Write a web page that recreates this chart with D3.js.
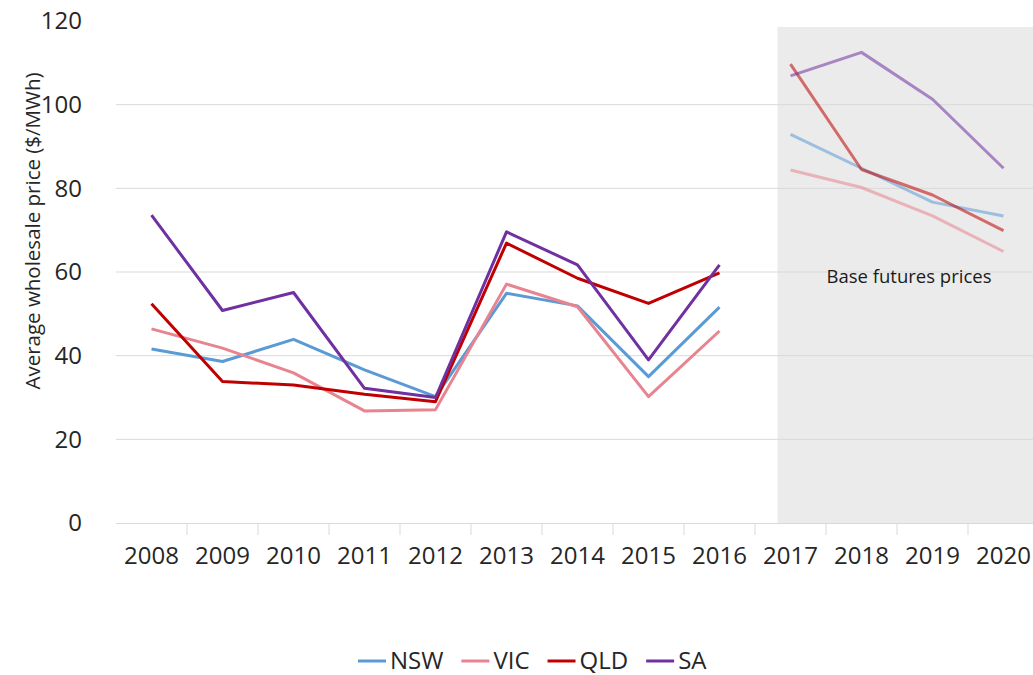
<!DOCTYPE html>
<html>
<head>
<meta charset="utf-8">
<script src="https://cdn.jsdelivr.net/npm/d3@7"></script>
<style>
  html, body { margin: 0; padding: 0; background: #fff; }
  svg { display: block; font-family: "Open Sans", "Noto Sans", sans-serif; }
</style>
</head>
<body>
<svg id="chart" width="1033" height="675"></svg>
<script>
// Annual average wholesale electricity prices ($/MWh) by region.
// 2008–2016 are historical averages; 2017–2020 are base futures prices.
const years = ["2008","2009","2010","2011","2012","2013","2014","2015","2016","2017","2018","2019","2020"];
const futureYears = ["2017","2018","2019","2020"];

const nsw = [41.6, 38.6, 43.9, 36.6, 30.2, 54.9, 51.9, 35.0, 51.6, 92.9, 84.8, 76.7, 73.4];
const vic = [46.4, 41.8, 35.9, 26.8, 27.1, 57.1, 51.7, 30.2, 45.9, 84.4, 80.2, 73.4, 64.9];
const qld = [52.4, 33.8, 33.0, 30.8, 29.0, 66.9, 58.5, 52.5, 59.8, 109.7, 84.5, 78.4, 69.9];
const sa  = [73.6, 50.8, 55.1, 32.2, 30.0, 69.6, 61.7, 39.0, 61.7, 106.9, 112.5, 101.3, 84.8];

const seriesNames = ["NSW", "VIC", "QLD", "SA"];
const seriesValues = [nsw, vic, qld, sa];
const seriesColors = ["#5b9bd5", "#e8848f", "#c00000", "#7030a0"];

const yTicks = [0, 20, 40, 60, 80, 100, 120];
const yTitle = "Average wholesale price ($/MWh)";
const futuresLabel = "Base futures prices";

const svg = d3.select("#chart");

const x = d3.scaleBand().domain(years).range([116, 116 + 71 * years.length]).padding(0);
const y = d3.scaleLinear().domain([0, 120]).range([523, 21]);
const xc = d => x(d) + x.bandwidth() / 2;

// Shaded futures region
const shadeX = xc(futureYears[0]) - 13;
svg.append("rect")
  .attr("x", shadeX)
  .attr("y", 27)
  .attr("width", 1033 - shadeX)
  .attr("height", y(0) - 27)
  .attr("fill", "#ebebeb");

// Horizontal gridlines
svg.append("g")
  .selectAll("line")
  .data(yTicks.filter(t => t > 0 && t < 120))
  .join("line")
  .attr("x1", 116).attr("x2", 1033)
  .attr("y1", d => y(d)).attr("y2", d => y(d))
  .attr("stroke", "#d9d9d9").attr("stroke-width", 1);

// Category axis
const xAxis = d3.axisBottom(x).tickSize(0).tickPadding(24);
const gx = svg.append("g").attr("transform", `translate(0,${y(0)})`).call(xAxis);
gx.select(".domain").attr("stroke", "#d9d9d9").attr("d", "M116,0.5H1033");
gx.selectAll("text")
  .attr("font-size", 24)
  .attr("fill", "#262626")
  .attr("font-family", "'Open Sans', sans-serif");
// tick marks at category boundaries
gx.append("g")
  .selectAll("line")
  .data(years.slice(1))
  .join("line")
  .attr("x1", d => x(d)).attr("x2", d => x(d))
  .attr("y1", 0).attr("y2", 12)
  .attr("stroke", "#d9d9d9");

// Value axis (labels only)
const yAxis = d3.axisLeft(y).tickValues(yTicks).tickSize(0).tickPadding(0);
const gy = svg.append("g").attr("transform", "translate(82,0)").call(yAxis);
gy.select(".domain").remove();
gy.selectAll("text")
  .attr("font-size", 24)
  .attr("fill", "#262626")
  .attr("font-family", "'Open Sans', sans-serif");

// Axis title
svg.append("text")
  .attr("transform", "translate(33,231) rotate(-90)")
  .attr("text-anchor", "middle")
  .attr("dy", "0.35em")
  .attr("font-size", 20.5)
  .attr("fill", "#262626")
  .text(yTitle);

// Lines: historical and futures drawn as separate segments
const line = d3.line()
  .x(d => xc(d.year))
  .y(d => y(d.value));

seriesNames.forEach((name, i) => {
  const pts = years.map((yr, j) => ({ year: yr, value: seriesValues[i][j] }));
  const hist = pts.filter(p => !futureYears.includes(p.year));
  const fut = pts.filter(p => futureYears.includes(p.year));
  svg.append("path")
    .datum(hist)
    .attr("d", line)
    .attr("fill", "none")
    .attr("stroke", seriesColors[i])
    .attr("stroke-width", 3)
    .attr("stroke-linejoin", "round");
  svg.append("path")
    .datum(fut)
    .attr("d", line)
    .attr("fill", "none")
    .attr("stroke", seriesColors[i])
    .attr("stroke-opacity", 0.55)
    .attr("stroke-width", 3)
    .attr("stroke-linejoin", "round");
});

// Futures annotation
svg.append("text")
  .attr("x", 909)
  .attr("y", 277)
  .attr("text-anchor", "middle")
  .attr("dy", "0.35em")
  .attr("font-size", 18.5)
  .attr("fill", "#1a1a1a")
  .text(futuresLabel);

// Legend
const legend = svg.append("g");
let lx = 358;
seriesNames.forEach((name, i) => {
  legend.append("line")
    .attr("x1", lx).attr("x2", lx + 28)
    .attr("y1", 661).attr("y2", 661)
    .attr("stroke", seriesColors[i])
    .attr("stroke-width", 3);
  const t = legend.append("text")
    .attr("x", lx + 32)
    .attr("y", 661)
    .attr("dy", "0.35em")
    .attr("font-size", 24)
    .attr("fill", "#262626")
    .text(name);
  lx += 32 + t.node().getComputedTextLength() + 18;
});
</script>
</body>
</html>
